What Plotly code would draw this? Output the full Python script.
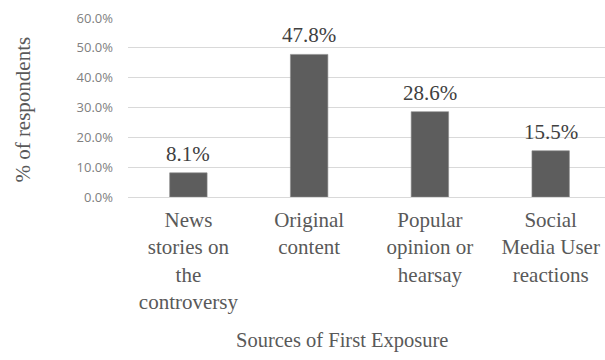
import plotly.graph_objects as go

categories = ["News<br>stories on<br>the<br>controversy", "Original<br>content",
              "Popular<br>opinion or<br>hearsay", "Social<br>Media User<br>reactions"]
values = [8.1, 47.8, 28.6, 15.5]
tick_vals = [0, 10, 20, 30, 40, 50, 60]
tick_text = ["0.0%", "10.0%", "20.0%", "30.0%", "40.0%", "50.0%", "60.0%"]
x_title = "Sources of First Exposure"
y_title = "% of respondents"

serif = "Liberation Serif"
txt_color = "#595959"

fig = go.Figure()
fig.add_trace(go.Bar(
    x=list(range(len(categories))), y=values,
    marker=dict(color="#5d5d5d", line=dict(color="#8a8a8a", width=0.6)),
    width=0.31,
    hoverinfo="skip",
))

for i, v in enumerate(values):
    fig.add_annotation(x=i, y=v, text=f"{v:.1f}%", showarrow=False,
                       yanchor="middle", yshift=19,
                       font=dict(family=serif, size=21, color="#404040"))

fig.add_annotation(xref="paper", yref="paper", x=(342 - 127.5) / (605 - 127.5),
                   y=-(340 - 197) / (197 - 18), text=x_title, showarrow=False,
                   xanchor="center", yanchor="middle",
                   font=dict(family=serif, size=20.5, color=txt_color))

fig.add_annotation(xref="paper", yref="paper", x=-(127.5 - 22) / (605 - 127.5),
                   y=(197 - 110) / (197 - 18),
                   text=y_title, showarrow=False, textangle=-90,
                   xanchor="center", yanchor="middle",
                   font=dict(family=serif, size=21, color=txt_color))

fig.update_layout(
    width=605, height=360,
    margin=dict(l=127.5, r=0, t=18, b=163),
    paper_bgcolor="white", plot_bgcolor="white",
    showlegend=False,
    xaxis=dict(
        range=[-0.5, 3.45],
        tickmode="array", tickvals=list(range(len(categories))), ticktext=categories,
        tickfont=dict(family=serif, size=21, color=txt_color),
        showgrid=False, zeroline=False, showline=False, ticks="",
        ticklabelstandoff=8,
        fixedrange=True,
    ),
    yaxis=dict(
        range=[0, 60],
        tickmode="array", tickvals=tick_vals, ticktext=tick_text,
        tickfont=dict(family="Open Sans", size=13, color="#808080"),
        showgrid=True, gridcolor="#d9d9d9", gridwidth=1,
        zeroline=True, zerolinecolor="#d9d9d9", zerolinewidth=1,
        showline=False, ticks="", ticklabelstandoff=14,
        fixedrange=True,
    ),
)

fig.write_html("out.html", config={"displayModeBar": False})
